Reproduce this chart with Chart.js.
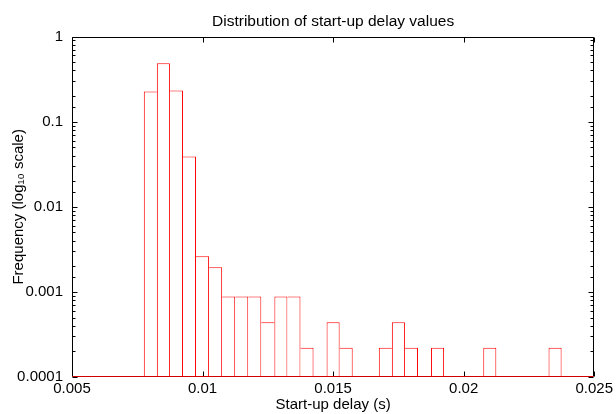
<!DOCTYPE html>
<html>
<head>
<meta charset="utf-8">
<script src="https://cdn.jsdelivr.net/npm/chart.js@4"></script>
<style>
  html, body { margin: 0; padding: 0; background: #fff; }
  canvas { display: block; }
</style>
</head>
<body>
<canvas id="myChart" width="616" height="414"></canvas>
<script>
// histogram bins (centre of each 0.0005 s bin) and relative frequency, empty bins left out
const binCenters = [0.008, 0.0085, 0.009, 0.0095, 0.01, 0.0105, 0.011, 0.0115, 0.012, 0.0125,
                    0.013, 0.0135, 0.014, 0.015, 0.0155, 0.017, 0.0175, 0.018, 0.019, 0.021, 0.0235];
const frequency = [0.227, 0.485, 0.233, 0.039, 0.00263, 0.00195, 0.00088, 0.00088, 0.00088, 0.00044,
                   0.00088, 0.00088, 0.00022, 0.00044, 0.00022, 0.00022, 0.00044, 0.00022, 0.00022, 0.00022, 0.00022];
const xTicks = [0.005, 0.01, 0.015, 0.02, 0.025];
const yTicks = [0.0001, 0.001, 0.01, 0.1, 1];

const font = { family: "'Liberation Sans', Arial, sans-serif", size: 15, weight: 'normal' };
const binWidth = 0.0005;

function isDecade(v) {
    const e = Math.log10(v);
    return Math.abs(e - Math.round(e)) < 1e-6;
}

// draw one edge between neighbouring bins, not two
function barBorders(c) {
    const i = c.dataIndex;
    if (i === undefined) return 1;
    const cur = frequency[i];
    const hasPrev = i > 0 && binCenters[i] - binCenters[i - 1] < binWidth * 1.2;
    const hasNext = i < binCenters.length - 1 && binCenters[i + 1] - binCenters[i] < binWidth * 1.2;
    return {
        top: 1,
        bottom: 0,
        left: (!hasPrev || frequency[i - 1] < cur) ? 1 : 0,
        right: (!hasNext || frequency[i + 1] <= cur) ? 1 : 0
    };
}

// opaque white canvas so thin edges are not half transparent
const whiteBg = {
    id: 'whiteBg',
    beforeDraw(chart) {
        const c = chart.ctx;
        c.save();
        c.fillStyle = '#fff';
        c.fillRect(0, 0, chart.width, chart.height);
        c.restore();
    }
};

// box round the plot with inward ticks
const frame = {
    id: 'plotFrame',
    afterDatasetsDraw(chart) {
        const { ctx, chartArea: a, scales: { x, y } } = chart;
        const l = Math.round(a.left) + 0.5, r = Math.round(a.right) - 0.5;
        const t = Math.round(a.top) + 0.5, b = Math.round(a.bottom) - 0.5;
        ctx.save();
        ctx.strokeStyle = '#000';
        ctx.lineWidth = 1;
        ctx.beginPath();
        ctx.moveTo(l, b); ctx.lineTo(l, t); ctx.lineTo(r, t); ctx.lineTo(r, b);
        x.ticks.forEach(tk => {
            const px = Math.round(x.getPixelForValue(tk.value)) + 0.5;
            ctx.moveTo(px, b); ctx.lineTo(px, b - 5);
            ctx.moveTo(px, t); ctx.lineTo(px, t + 5);
        });
        y.ticks.forEach(tk => {
            const py = Math.round(y.getPixelForValue(tk.value)) + 0.5;
            const len = isDecade(tk.value) ? 5 : 3;
            ctx.moveTo(l, py); ctx.lineTo(l + len, py);
            ctx.moveTo(r, py); ctx.lineTo(r - len, py);
        });
        ctx.stroke();
        // histogram baseline
        ctx.strokeStyle = '#d00000';
        ctx.beginPath();
        ctx.moveTo(l, b);
        ctx.lineTo(r, b);
        ctx.stroke();
        ctx.restore();
    }
};

var ctx = document.getElementById('myChart');
var myChart = new Chart(ctx, {
    type: 'bar',
    data: {
        datasets: [{
            label: 'Frequency',
            data: binCenters.map((c, i) => ({ x: c, y: frequency[i] })),
            backgroundColor: '#ffffff',
            borderColor: '#ff0000',
            borderWidth: barBorders,
            borderSkipped: false,
            inflateAmount: 0,
            barPercentage: 1,
            categoryPercentage: 1
        }]
    },
    options: {
        responsive: false,
        animation: false,
        devicePixelRatio: 1,
        layout: { padding: { left: 0, right: 19, top: 0, bottom: 0 } },
        plugins: {
            legend: { display: false },
            tooltip: { enabled: false },
            title: {
                display: true,
                fullSize: false,
                text: 'Distribution of start-up delay values',
                color: '#000',
                font: { family: font.family, size: 15.5, weight: 'normal' },
                padding: { top: 12, bottom: 6 }
            }
        },
        scales: {
            x: {
                type: 'linear',
                min: xTicks[0],
                max: xTicks[xTicks.length - 1],
                offset: false,
                grid: { display: false, drawTicks: false, offset: false },
                border: { display: false },
                afterBuildTicks: s => { s.ticks = xTicks.map(v => ({ value: v })); },
                ticks: {
                    color: '#000',
                    font: font,
                    padding: 3,
                    maxRotation: 0,
                    autoSkip: false,
                    callback: v => String(parseFloat(v.toFixed(4)))
                },
                title: {
                    display: true,
                    text: 'Start-up delay (s)',
                    color: '#000',
                    font: font,
                    padding: { top: 0, bottom: 0 }
                },
                afterFit: s => { s.height = 37; }
            },
            y: {
                type: 'logarithmic',
                min: yTicks[0],
                max: yTicks[yTicks.length - 1],
                grid: { display: false, drawTicks: false },
                border: { display: false },
                ticks: {
                    color: '#000',
                    font: font,
                    padding: 9,
                    autoSkip: false,
                    callback: v => {
                        if (!isDecade(v)) return '';
                        const e = Math.round(Math.log10(v));
                        return e >= 0 ? String(Math.pow(10, e)) : Math.pow(10, e).toFixed(-e);
                    }
                },
                title: {
                    display: true,
                    text: 'Frequency (log\u2081\u2080 scale)',
                    color: '#000',
                    font: font,
                    padding: { top: 10, bottom: 0 }
                },
                afterFit: s => { s.width = 72; }
            }
        }
    },
    plugins: [whiteBg, frame]
});
</script>
</body>
</html>
